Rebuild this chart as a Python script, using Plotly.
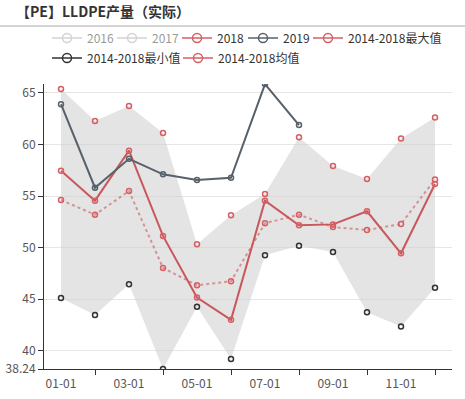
import plotly.graph_objects as go

months = ["01-01","02-01","03-01","04-01","05-01","06-01","07-01","08-01","09-01","10-01","11-01","12-01"]
y2016 = [None]*12
y2017 = [None]*12
y2018 = [57.45,54.55,59.39,51.13,45.16,43.0,54.55,52.16,52.25,53.52,49.45,56.16]
y2019 = [63.9,55.8,58.6,57.1,56.55,56.77,65.84,61.87]
ymax = [65.36,62.26,63.71,61.1,50.32,53.13,55.2,60.68,57.9,56.64,60.58,62.6]
ymin = [45.13,43.48,46.45,38.24,44.26,39.2,49.26,50.19,49.58,43.74,42.35,46.1]
ymean = [54.61,53.19,55.48,48.03,46.35,46.74,52.36,53.19,52.0,51.7,52.29,56.6]
ytick_vals = [38.24,40,45,50,55,60,65]
ytick_text = ["38.24","40","45","50","55","60","65"]

x = list(range(len(months)))
RED = "#c9585c"
RED_M = "#d65f64"
DARK = "#56616b"
MEAN = "#d49294"

fig = go.Figure()
fig.add_trace(go.Scatter(x=x, y=ymin, mode="lines", line=dict(width=0), showlegend=False, hoverinfo="skip"))
fig.add_trace(go.Scatter(x=x, y=ymax, mode="lines", line=dict(width=0), fill="tonexty",
                         fillcolor="rgba(205,205,205,0.55)", showlegend=False, hoverinfo="skip"))

mk = lambda c: dict(symbol="circle-open", size=5, color=c, line=dict(width=1.5, color=c))
mkl = lambda c: dict(symbol="circle-open", size=9, color=c, line=dict(width=1.5, color=c))

fig.add_trace(go.Scatter(x=x, y=ymean, mode="lines+markers", showlegend=False,
                         line=dict(color=MEAN, width=2, dash="dot"), marker=mk(RED_M)))
fig.add_trace(go.Scatter(x=x, y=y2018, mode="lines+markers", showlegend=False,
                         line=dict(color=RED, width=2), marker=mk(RED_M)))
fig.add_trace(go.Scatter(x=x[:len(y2019)], y=y2019, mode="lines+markers", showlegend=False,
                         line=dict(color=DARK, width=2), marker=mk(DARK)))
fig.add_trace(go.Scatter(x=x, y=ymax, mode="markers", showlegend=False, marker=mk(RED_M)))
fig.add_trace(go.Scatter(x=x, y=ymin, mode="markers", showlegend=False, marker=mk("#333333")))

def leg(name, color, legend, visible=True, ys=None):
    fig.add_trace(go.Scatter(x=[None] if ys is None else x, y=[None] if ys is None else ys, name=name,
                             mode="lines+markers", visible=visible, legend=legend,
                             line=dict(color=color, width=1.5), marker=mkl(color)))

leg("2016", "#aaaaaa", "legend", "legendonly", y2016)
leg("2017", "#aaaaaa", "legend5", "legendonly", y2017)
leg("2018", RED_M, "legend6")
leg("2019", DARK, "legend4")
leg("2014-2018最大值", RED_M, "legend3")
leg("2014-2018最小值", "#333333", "legend2")
leg("2014-2018均值", RED_M, "legend2")

leg_common = dict(orientation="h", xanchor="left", yanchor="middle", xref="container", yref="container",
                  font=dict(size=12, color="#333"), itemwidth=30, bgcolor="rgba(0,0,0,0)",
                  traceorder="normal")
row1 = 1 - 38/399

fig.update_layout(
    width=465, height=399,
    margin=dict(l=44, r=13, t=84, b=30),
    paper_bgcolor="white", plot_bgcolor="white",
    font=dict(family="Noto Sans CJK SC, sans-serif", size=12, color="#333"),
    title=dict(text="<b>【PE】LLDPE产量（实际）</b>", xref="container", x=16/465, xanchor="left",
               yref="container", y=1-12/399, yanchor="middle", font=dict(size=14, color="#333")),
    legend=dict(**leg_common, x=47/465, y=row1, entrywidth=40),
    legend5=dict(**leg_common, x=112/465, y=row1, entrywidth=40),
    legend6=dict(**leg_common, x=177/465, y=row1, entrywidth=40),
    legend4=dict(**leg_common, x=243/465, y=row1, entrywidth=40),
    legend3=dict(**leg_common, x=308/465, y=row1, entrywidth=110),
    legend2=dict(**leg_common, x=47/465, y=1-58/399, entrywidth=86),
    showlegend=True,
    shapes=[dict(type="line", xref="paper", yref="paper", x0=-44/408, x1=421/408,
                 y0=1+(84-26)/285, y1=1+(84-26)/285, line=dict(color="#aaaaaa", width=1))],
    xaxis=dict(range=[-0.5, 11.5], tickvals=x[0::2], ticktext=months[0::2], ticks="",
               showgrid=False, showline=True, linecolor="#333", linewidth=1, zeroline=False,
               automargin=False, tickfont=dict(color="#555", size=12), ticklabelstandoff=4,
               minor=dict(tickvals=x[1::2], ticks="outside", ticklen=5, tickcolor="#333", showgrid=False)),
    yaxis=dict(range=[38.24, 65.85], tickvals=ytick_vals, ticktext=ytick_text, ticks="outside",
               ticklen=5, tickcolor="#333", showline=True, linecolor="#333", linewidth=1,
               automargin=False, showgrid=True, gridcolor="#e6e6e6", zeroline=False,
               tickfont=dict(color="#555", size=12)),
)
fig.write_html("out.html", config={"displayModeBar": False},
               post_script="document.body.style.margin='0px';")
